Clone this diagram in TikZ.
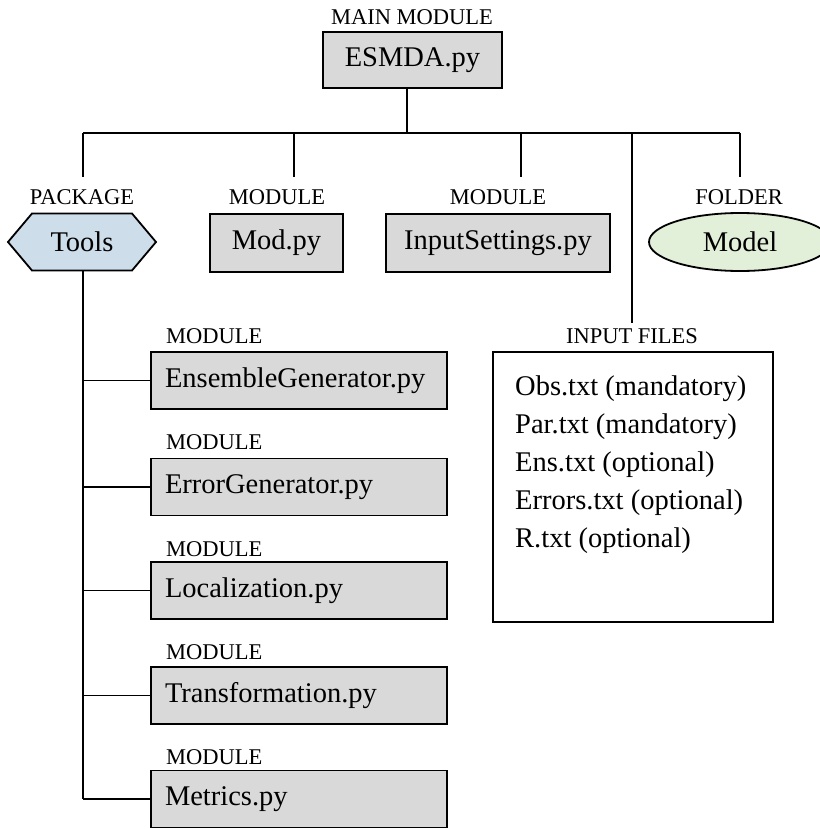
\documentclass[tikz,border=0pt]{standalone}
\usepackage{fontspec}
\setmainfont{Liberation Serif}
\usetikzlibrary{shapes.geometric}
\definecolor{boxgray}{HTML}{D9D9D9}
\definecolor{toolblue}{HTML}{CEDDEA}
\definecolor{foldergreen}{HTML}{E2EFD9}
\begin{document}
\begin{tikzpicture}[x=1pt,y=-1pt,
  lbl/.style={font=\fontsize{22.5}{27}\selectfont, inner sep=0pt},
  bigtxt/.style={font=\fontsize{28.5}{34}\selectfont},
  modbox/.style={draw, line width=1.8pt, fill=boxgray, bigtxt, inner sep=0pt},
  subbox/.style={modbox, minimum width=296pt, minimum height=57pt, text width=268pt, align=left},
  link/.style={line width=1.8pt}]
\useasboundingbox (0,0) rectangle (819,829);
% main module
\node[lbl] (mainlbl) at (412,17) {MAIN MODULE};
\node[modbox, minimum width=179pt, minimum height=56pt] (esmda) at (412.5,60) {ESMDA.py};
\coordinate (bus) at (407,133);
\coordinate (busL) at (83,133);
\coordinate (busR) at (740,133);
\draw[link] (esmda.south -| bus) -- (bus);
\draw[link] (busL) -- (busR);
% tools package
\coordinate (toolstick) at (83,177);
\draw[link] (busL) -- (toolstick);
\node[lbl] (pkglbl) at (82,197) {PACKAGE};
\draw[link, fill=toolblue] (8,242) -- (32,213.5) -- (132,213.5) -- (156,242) -- (132,270.5) -- (32,270.5) -- cycle;
\node[bigtxt, inner sep=0pt] (tools) at (82,242) {Tools};
\coordinate (toolsbot) at (83,270.5);
\coordinate (toolsend) at (83,799);
\draw[link] (toolsbot) -- (toolsend);
% Mod.py
\coordinate (modtick) at (294,177);
\draw[link] (modtick |- bus) -- (modtick);
\node[lbl] (modlbl) at (277,197) {MODULE};
\node[modbox, minimum width=133pt, minimum height=58pt] (mod) at (276.5,243) {Mod.py};
% InputSettings.py
\coordinate (settick) at (521,177);
\draw[link] (settick |- bus) -- (settick);
\node[lbl] (setlbl) at (498,197) {MODULE};
\node[modbox, minimum width=224pt, minimum height=58pt] (settings) at (498,243) {InputSettings.py};
% Model folder
\coordinate (foldtick) at (740,177);
\draw[link] (foldtick |- bus) -- (foldtick);
\node[lbl] (foldlbl) at (739,197) {FOLDER};
\node[ellipse, draw, line width=1.8pt, fill=foldergreen, bigtxt, inner sep=0pt, minimum width=182pt, minimum height=58pt] (model) at (740,242) {Model};
% input files
\coordinate (inptick) at (632,323);
\draw[link] (inptick |- bus) -- (inptick);
\node[lbl] (inplbl) at (632,336) {INPUT FILES};
\node[draw, line width=1.8pt, fill=white, minimum width=280pt, minimum height=270pt, inner sep=0pt] (inputs) at (633,487) {};
\node[bigtxt, align=left, anchor=west, inner sep=0pt, font=\fontsize{28.5}{38}\selectfont] (files) at (515,465)
  {Obs.txt (mandatory)\\Par.txt (mandatory)\\Ens.txt (optional)\\Errors.txt (optional)\\R.txt (optional)};
% tools submodules
\node[lbl, anchor=west] (l1) at (166,336) {MODULE};
\node[subbox] (ens) at (299,380.5) {EnsembleGenerator.py};
\node[lbl, anchor=west] (l2) at (166,442) {MODULE};
\node[subbox] (err) at (299,487) {ErrorGenerator.py};
\node[lbl, anchor=west] (l3) at (166,549) {MODULE};
\node[subbox] (loc) at (299,590.5) {Localization.py};
\node[lbl, anchor=west] (l4) at (166,652) {MODULE};
\node[subbox] (tra) at (299,695.5) {Transformation.py};
\node[lbl, anchor=west] (l5) at (166,757) {MODULE};
\node[subbox] (met) at (299,799) {Metrics.py};
\foreach \b in {ens,err,loc,tra,met}
  \draw[link] (\b.west) -- (\b.west -| toolsend);
\end{tikzpicture}
\end{document}
